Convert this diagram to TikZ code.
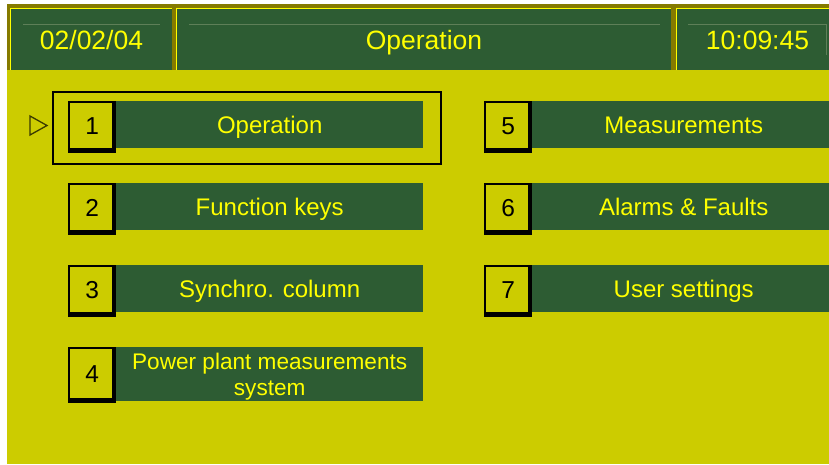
\documentclass[tikz,border=0pt]{standalone}
\usepackage{fontspec}
\setmainfont{Liberation Sans}
\usetikzlibrary{calc}
\definecolor{bgyellow}{HTML}{CCCC00}
\definecolor{bargreen}{HTML}{2D5C33}
\definecolor{txtyellow}{HTML}{FFFF00}
\definecolor{hdrolive}{HTML}{857A00}
\definecolor{faintline}{HTML}{5E7F58}
\definecolor{markline}{HTML}{3A3A00}
\begin{document}
\begin{tikzpicture}[x=1pt,y=-1pt,
  hdrcell/.style={fill=bargreen, inner sep=0pt, anchor=north west, minimum height=62pt},
  hdrtext/.style={text=txtyellow, font=\fontsize{26.5}{28}\selectfont, anchor=base, inner sep=0pt},
  numbox/.style={fill=black, inner sep=0pt, anchor=north west, minimum width=48pt, minimum height=52pt,
    font=\fontsize{24.5}{26}\selectfont, text=black, text height=18pt, text depth=3pt,
    path picture={\fill[bgyellow] ($(path picture bounding box.north west)+(2pt,-2pt)$) rectangle ($(path picture bounding box.south east)+(-4pt,5pt)$);}},
  barbox/.style={fill=bargreen, inner sep=0pt, anchor=north west, minimum height=47pt,
    text=txtyellow, font=\fontsize{24}{26}\selectfont, text height=20pt, text depth=3pt},
  bartext/.style={text=txtyellow, font=\fontsize{22.6}{26}\selectfont, anchor=base, inner sep=0pt},
  selframe/.style={draw=black, line width=2pt, inner sep=0pt, anchor=north west},
  hline/.style={faintline, line width=0.8pt}
]
\useasboundingbox (0,0) rectangle (829,464);
\fill[white] (0,0) rectangle (829,464);
\fill[bgyellow] (7,70) rectangle (829,464);
\fill[hdrolive] (7,4) rectangle (829,70);

% header cells
\node[hdrcell, minimum width=162pt] (hdrdate) at (10,8) {};
\node[hdrcell, minimum width=495pt] (hdrtitle) at (176,8) {};
\node[hdrcell, minimum width=153pt] (hdrtime) at (676,8) {};
\foreach \c in {hdrdate,hdrtitle,hdrtime}{
  \draw[txtyellow, line width=1.3pt] ($(\c.south west)+(0.65pt,0)$) -- ($(\c.north west)+(0.65pt,-0.65pt)$) -- ($(\c.north east)+(0,-0.65pt)$);
}
\draw[hline] (23,24) -- (160,24);
\draw[hline] (189,24) -- (660,24);
\draw[hline] (688,24) -- (826,24) -- (826,55);
\node[hdrtext] (tdate) at (91.5,49) {02/02/04};
\node[hdrtext] (ttitle) at (424,49) {Operation};
\node[hdrtext] (ttime) at (757.5,49) {10:09:45};

% selection frame and marker
\node[selframe, minimum width=388pt, minimum height=72pt] (sel) at (52,91) {};
\draw[markline, fill=bgyellow, line width=1.3pt, line join=miter] (30,116) -- (47,125.5) -- (30,135) -- cycle;
\coordinate (marker) at (38,125.5);

% left column
\node[numbox] (n1) at (68,101) {1};
\node[barbox, minimum width=307pt] (b1) at (116,101) {Operation};
\node[numbox] (n2) at (68,183) {2};
\node[barbox, minimum width=307pt] (b2) at (116,183) {Function keys};
\node[numbox] (n3) at (68,265) {3};
\node[barbox, minimum width=307pt] (b3) at (116,265) {Synchro. column};
\node[numbox, minimum height=56pt] (n4) at (68,347) {4};
\node[barbox, minimum width=307pt, minimum height=54pt] (b4) at (116,347) {};
\node[bartext] (b4a) at ($(b4.north)+(0,22)$) {Power plant measurements};
\node[bartext] (b4b) at ($(b4.north)+(0,48)$) {system};

% right column (bars run past the right edge)
\node[numbox] (n5) at (484,101) {5};
\node[barbox, minimum width=303pt] (b5) at (532,101) {Measurements};
\node[numbox] (n6) at (484,183) {6};
\node[barbox, minimum width=303pt] (b6) at (532,183) {Alarms \& Faults};
\node[numbox] (n7) at (484,265) {7};
\node[barbox, minimum width=303pt] (b7) at (532,265) {User settings};
\end{tikzpicture}
\end{document}
